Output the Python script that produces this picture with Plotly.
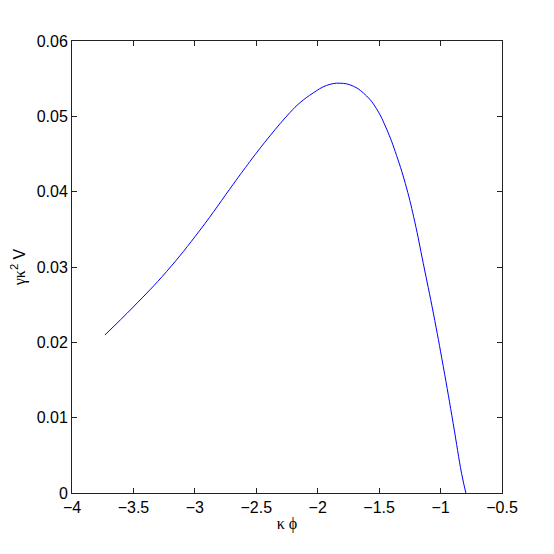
import plotly.graph_objects as go

# values
kappa_phi = [-3.731, -3.501, -3.230, -2.958, -2.687, -2.552, -2.389, -2.226, -2.145,
             -2.037, -1.928, -1.819, -1.710, -1.602, -1.521, -1.439, -1.358, -1.277,
             -1.210, -1.141, -1.059, -0.978, -0.897, -0.829, -0.794]
gamma_k2_v = [0.0210, 0.0247, 0.0294, 0.0349, 0.0410, 0.0440, 0.0474, 0.0505, 0.0518,
              0.0531, 0.0541, 0.0544, 0.0540, 0.0527, 0.0510, 0.0483, 0.0448, 0.0405,
              0.0360, 0.0305, 0.0239, 0.0168, 0.0092, 0.0026, 0.0]

x_ticks = [-4, -3.5, -3, -2.5, -2, -1.5, -1, -0.5]
y_ticks = [0, 0.01, 0.02, 0.03, 0.04, 0.05, 0.06]

fig = go.Figure()
fig.add_trace(go.Scatter(
    x=kappa_phi, y=gamma_k2_v, mode='lines',
    line=dict(color='#0000ff', width=1, shape='spline', smoothing=1.2),
    showlegend=False
))

axis_style = dict(
    showline=True, linecolor='#222', linewidth=1, mirror='ticks',
    ticks='inside', ticklen=5, tickcolor='#222',
    showgrid=False, zeroline=False, automargin=False,
    tickfont=dict(family='Liberation Sans Narrow, Liberation Sans, Arial', size=16, color='black'),
)

fig.update_xaxes(
    range=[-4, -0.5], tickvals=x_ticks,
    ticktext=[f'{v:g}'.replace('-', '\u2212') for v in x_ticks],
    title=dict(text='κ ϕ', font=dict(family='Liberation Serif, Times New Roman', size=16, color='black'),
               standoff=2),
    **axis_style
)
fig.update_yaxes(
    range=[0, 0.06], tickvals=y_ticks,
    ticktext=['0', '0.01', '0.02', '0.03', '0.04', '0.05', '0.06'],
    title=dict(text='<span style="font-family:Liberation Serif">γκ</span><sup>2</sup> V',
               font=dict(family='Liberation Sans Narrow, Liberation Sans, Arial', size=16, color='black'),
               standoff=9),
    **axis_style
)

# the page body adds an 8px offset, so the figure is made a bit smaller
fig.update_layout(
    width=546, height=546,
    margin=dict(l=64, r=52, t=33, b=61),
    plot_bgcolor='white', paper_bgcolor='white',
)

fig.write_html("out.html")
